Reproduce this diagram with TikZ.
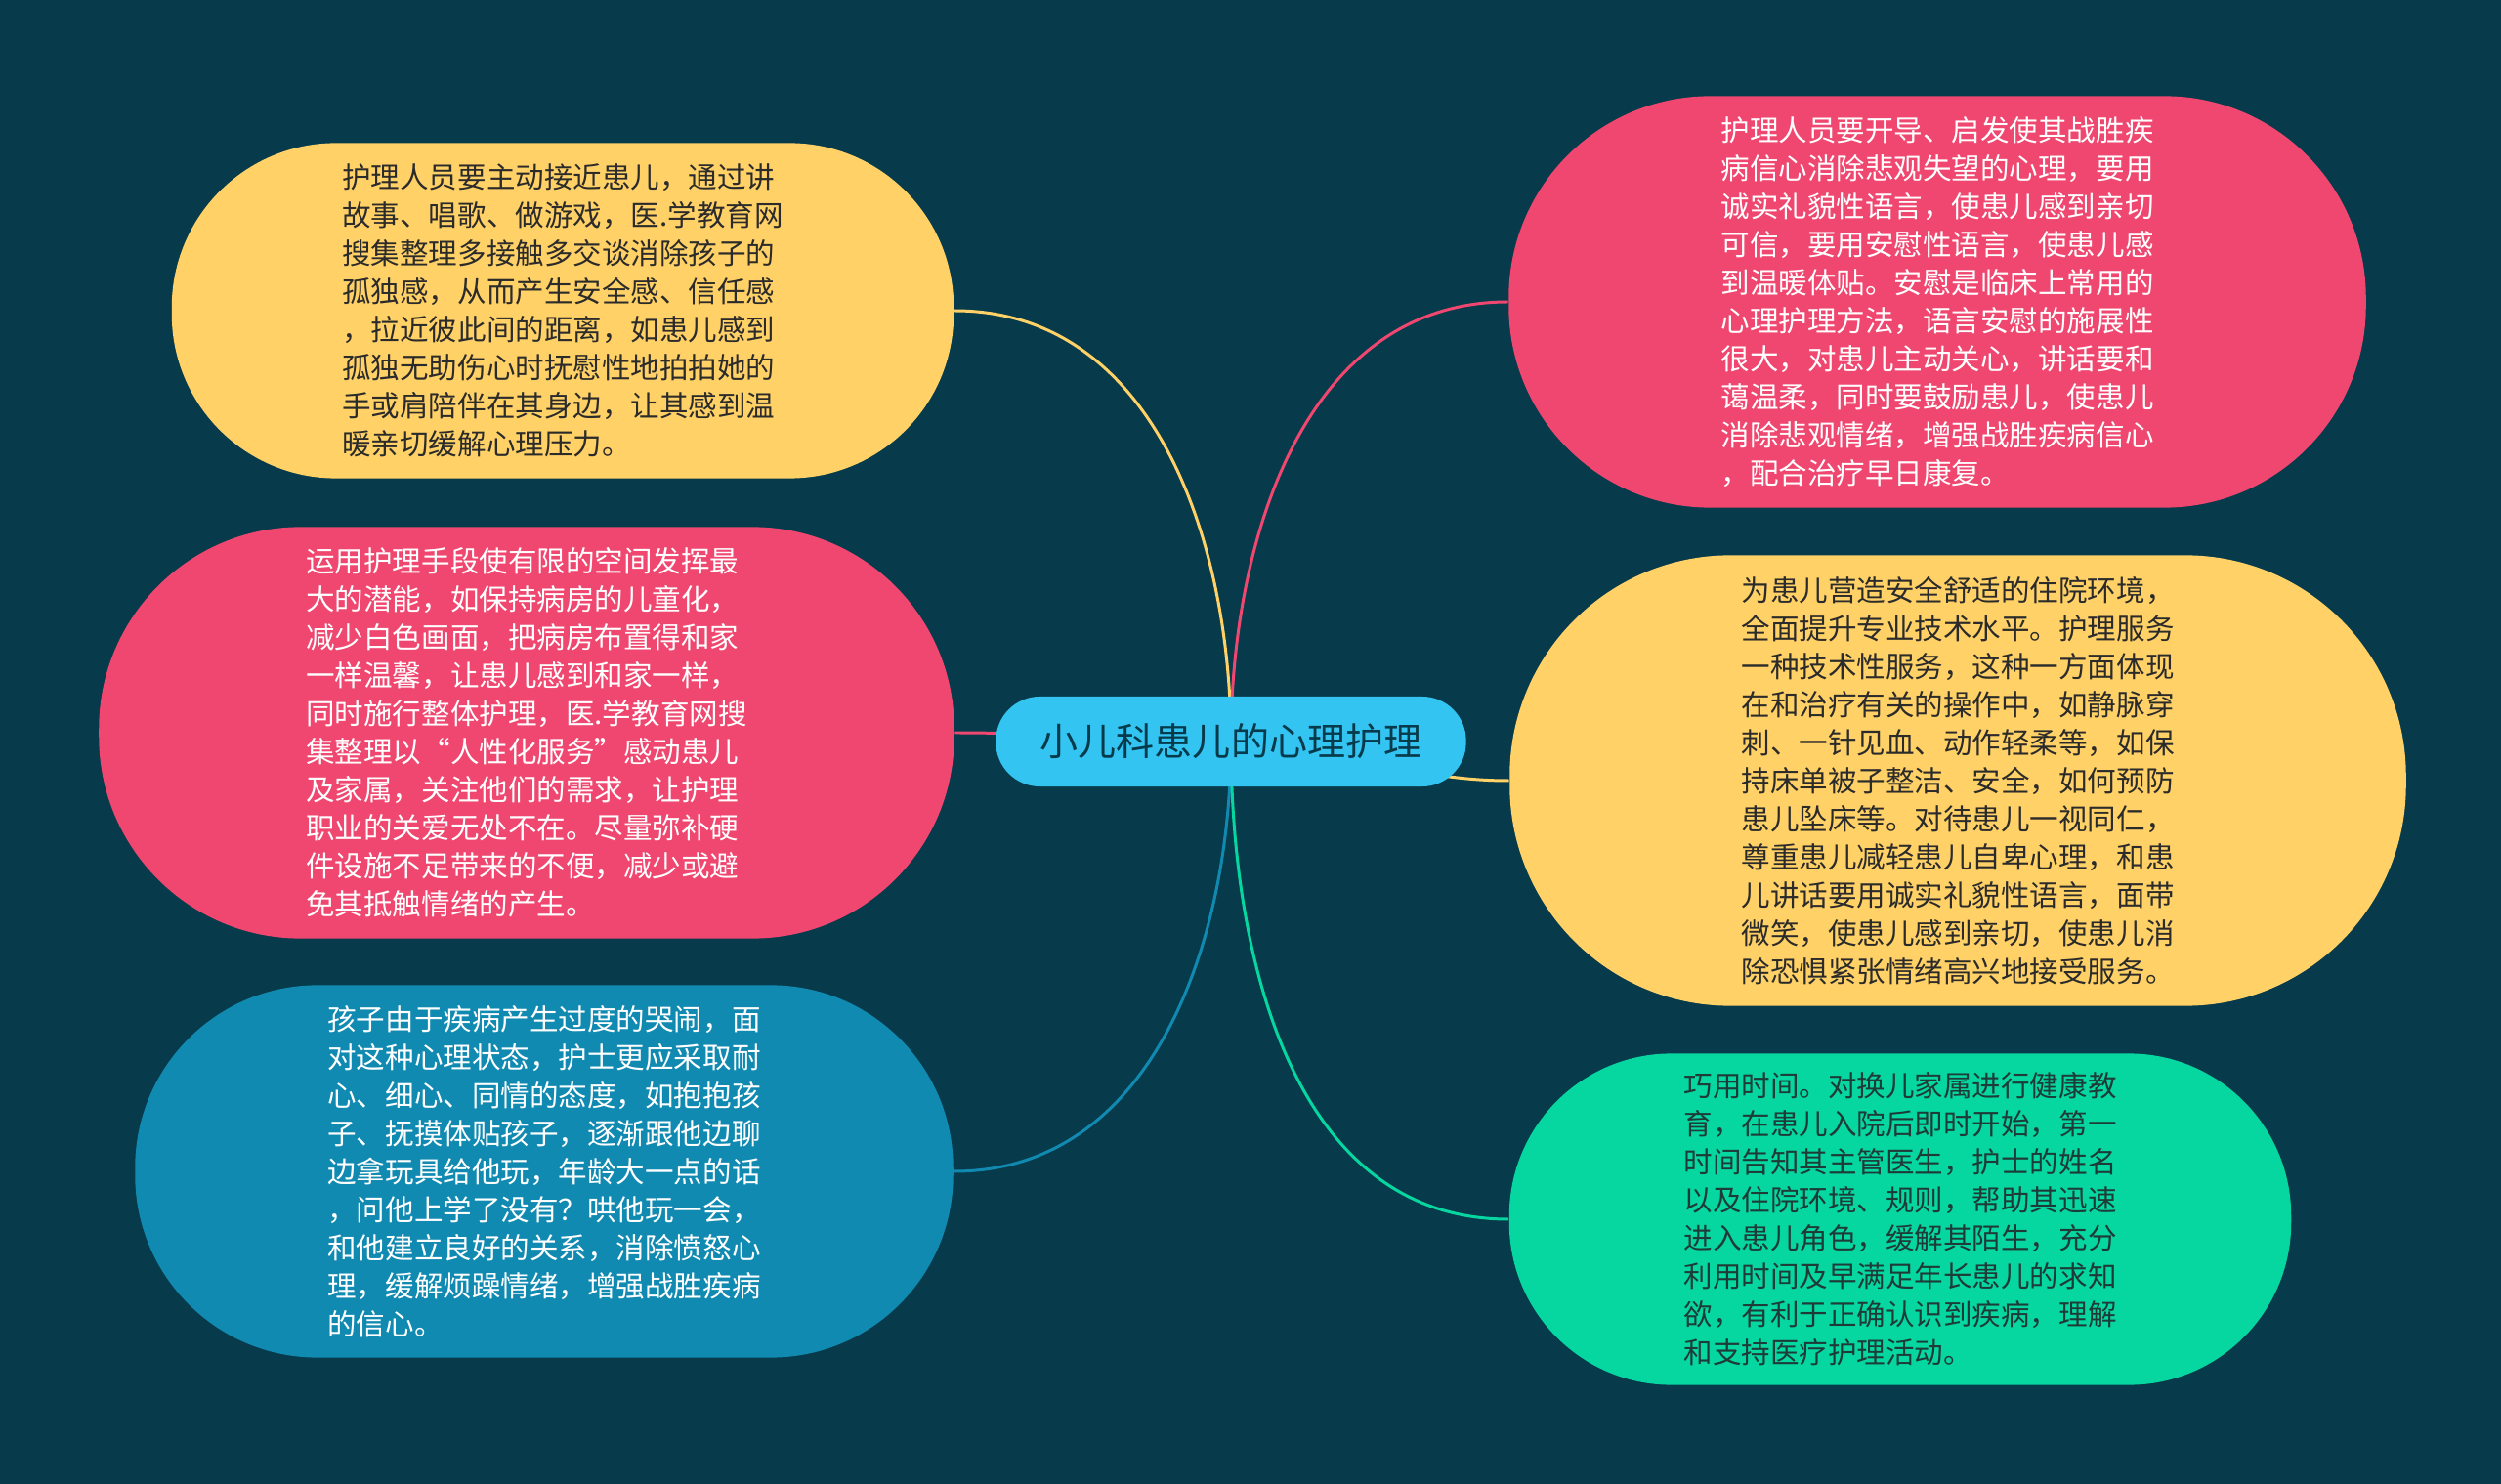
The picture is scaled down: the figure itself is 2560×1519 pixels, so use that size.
\documentclass[tikz,border=0pt]{standalone}
\usepackage{fontspec}
\newfontfamily\cjk{Noto Sans CJK SC}
\usepackage{tikz}

\definecolor{bgteal}{HTML}{073B4C}
\definecolor{mmpink}{HTML}{EF476F}
\definecolor{mmyellow}{HTML}{FFD166}
\definecolor{mmgreen}{HTML}{06D6A0}
\definecolor{mmblue}{HTML}{118AB2}
\definecolor{mmsky}{HTML}{33C4F2}
\definecolor{darktext}{HTML}{2B2B2B}
\definecolor{greentext}{HTML}{1E3B38}

\pgfdeclarelayer{back}
\pgfdeclarelayer{links}
\pgfsetlayers{back,links,main}

\begin{document}
\begin{tikzpicture}[x=0.01cm, y=0.01cm,
  topic/.style 2 args={rectangle, minimum width=#1, minimum height=#2,
    rounded corners=0.49*#2, inner sep=0pt, align=left,
    font=\cjk\fontsize{8.4}{11.1}\selectfont},
  link/.style={line width=0.85pt}]
  \useasboundingbox (0,0) rectangle (2560,-1519);
  \begin{pgfonlayer}{back}
    \fill[bgteal] (0,0) rectangle (2560,-1519);
  \end{pgfonlayer}

  \node [rectangle, rounded corners=0.45cm, minimum width=4.81cm, minimum height=0.92cm,
    fill=mmsky, text=bgteal, font=\cjk\fontsize{11.1}{13}\selectfont] (root) at (1260,-759)
    {小儿科患儿的心理护理};

  \node [topic={8cm}{3.43cm}, fill=mmyellow, text=darktext] (comfort) at (576,-318)
    {护理人员要主动接近患儿，通过讲\\
     故事、唱歌、做游戏，医.学教育网\\
     搜集整理多接触多交谈消除孩子的\\
     孤独感，从而产生安全感、信任感\\
     ，拉近彼此间的距离，如患儿感到\\
     孤独无助伤心时抚慰性地拍拍她的\\
     手或肩陪伴在其身边，让其感到温\\
     暖亲切缓解心理压力。};
  \node [topic={8.75cm}{4.21cm}, fill=mmpink, text=white] (ward) at (539,-750)
    {运用护理手段使有限的空间发挥最\\
     大的潜能，如保持病房的儿童化，\\
     减少白色画面，把病房布置得和家\\
     一样温馨，让患儿感到和家一样，\\
     同时施行整体护理，医.学教育网搜\\
     集整理以“人性化服务”感动患儿\\
     及家属，关注他们的需求，让护理\\
     职业的关爱无处不在。尽量弥补硬\\
     件设施不足带来的不便，减少或避\\
     免其抵触情绪的产生。};
  \node [topic={8.37cm}{3.81cm}, fill=mmblue, text=white] (crying) at (557,-1199)
    {孩子由于疾病产生过度的哭闹，面\\
     对这种心理状态，护士更应采取耐\\
     心、细心、同情的态度，如抱抱孩\\
     子、抚摸体贴孩子，逐渐跟他边聊\\
     边拿玩具给他玩，年龄大一点的话\\
     ，问他上学了没有？哄他玩一会，\\
     和他建立良好的关系，消除愤怒心\\
     理，缓解烦躁情绪，增强战胜疾病\\
     的信心。};
  \node [topic={8.77cm}{4.21cm}, fill=mmpink, text=white] (confidence) at (1983,-309)
    {护理人员要开导、启发使其战胜疾\\
     病信心消除悲观失望的心理，要用\\
     诚实礼貌性语言，使患儿感到亲切\\
     可信，要用安慰性语言，使患儿感\\
     到温暖体贴。安慰是临床上常用的\\
     心理护理方法，语言安慰的施展性\\
     很大，对患儿主动关心，讲话要和\\
     蔼温柔，同时要鼓励患儿，使患儿\\
     消除悲观情绪，增强战胜疾病信心\\
     ，配合治疗早日康复。};
  \node [topic={9.17cm}{4.61cm}, fill=mmyellow, text=darktext] (service) at (2004,-799)
    {为患儿营造安全舒适的住院环境，\\
     全面提升专业技术水平。护理服务\\
     一种技术性服务，这种一方面体现\\
     在和治疗有关的操作中，如静脉穿\\
     刺、一针见血、动作轻柔等，如保\\
     持床单被子整洁、安全，如何预防\\
     患儿坠床等。对待患儿一视同仁，\\
     尊重患儿减轻患儿自卑心理，和患\\
     儿讲话要用诚实礼貌性语言，面带\\
     微笑，使患儿感到亲切，使患儿消\\
     除恐惧紧张情绪高兴地接受服务。};
  \node [topic={8cm}{3.39cm}, fill=mmgreen, text=greentext] (timing) at (1945,-1248)
    {巧用时间。对换儿家属进行健康教\\
     育，在患儿入院后即时开始，第一\\
     时间告知其主管医生，护士的姓名\\
     以及住院环境、规则，帮助其迅速\\
     进入患儿角色，缓解其陌生，充分\\
     利用时间及早满足年长患儿的求知\\
     欲，有利于正确认识到疾病，理解\\
     和支持医疗护理活动。};

  \begin{pgfonlayer}{links}
    \draw [link, mmyellow] (root.center) to[out=90, in=0] (comfort.east);
    \draw [link, mmpink] (root.center) to[out=180, in=0] (ward.east);
    \draw [link, mmblue] (root.center) to[out=-90, in=0] (crying.east);
    \draw [link, mmpink] (root.center) to[out=90, in=180] (confidence.west);
    \draw [link, mmyellow] (root.center) to[out=0, in=180] (service.west);
    \draw [link, mmgreen] (root.center) to[out=-90, in=180] (timing.west);
  \end{pgfonlayer}
\end{tikzpicture}
\end{document}
